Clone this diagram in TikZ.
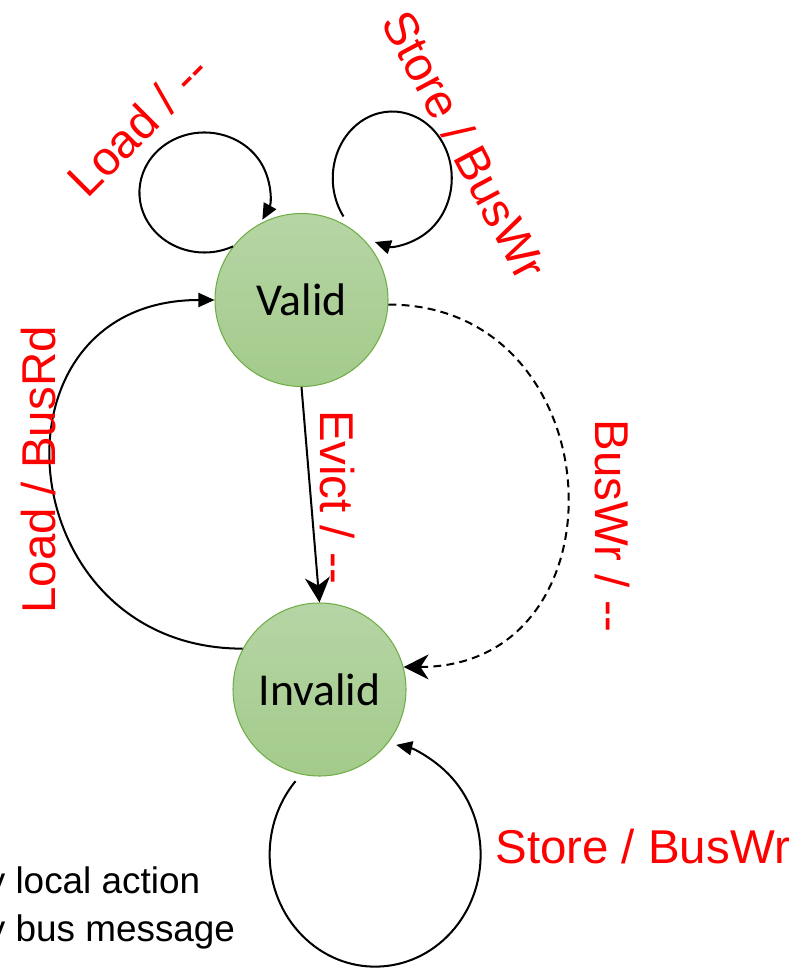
\documentclass[tikz,border=0pt]{standalone}
\usepackage{fontspec}
\setmainfont{Liberation Sans}
\newfontfamily\statefont{Carlito}
\usetikzlibrary{arrows.meta}

\definecolor{stateedge}{RGB}{112,173,71}
\definecolor{statetop}{RGB}{182,213,165}
\definecolor{statebottom}{RGB}{163,203,139}

\begin{document}
\begin{tikzpicture}[
	font=\fontsize{27}{32}\selectfont,
	state/.style={circle, draw=stateedge, line width=0.6pt, top color=statetop, bottom color=statebottom, minimum size=3.46cm, inner sep=0pt, font=\statefont\fontsize{26}{31}\selectfont},
	trans/.style={-{Triangle[length=3.2mm, width=2.8mm]}, line width=1.15pt, draw=black},
	bustrans/.style={trans, dashed, dash pattern=on 4.5pt off 3pt},
	bigtip/.style={-{Stealth[length=5mm, width=5mm, inset=1.6mm]}},
	action/.style={text=red, inner sep=0pt},
	legendtext/.style={font=\fontsize{21}{25}\selectfont, anchor=base west, inner sep=0pt}
]
\useasboundingbox (0,0) rectangle (15.96,-19.46);

% The two cache line states.
\node[state] (valid) at (6.03,-6.00) {Valid};
\node[state] (invalid) at (6.39,-13.79) {Invalid};

% Self loops.
\draw[trans] (valid.142) arc[start angle=-64, end angle=-387, x radius=1.3, y radius=1.2];
\draw[trans] ([shift={(0.05,0.12)}]valid.63) arc[start angle=215, end angle=-107, x radius=1.19, y radius=1.334];
\draw[trans] ([shift={(0,-0.16)}]invalid.-106) arc[start angle=139, end angle=438.5, x radius=2.11, y radius=2.24];

% Transitions between the states.
\draw[trans, bigtip] (valid.south) -- (invalid.north);
\draw[trans] (invalid.152) .. controls +(180:4.7) and +(180:4.7) .. (valid.west);
\draw[bustrans, bigtip] (valid.-3) .. controls +(0:4.54) and +(0:4.54) .. (invalid.15);

\node[action, rotate=45] (loadhit) at (2.76,-2.50) {Load / -{}-};
\node[action, rotate=-62] (storevalid) at (9.30,-2.90) {Store / BusWr};
\node[action, rotate=90] (loadmiss) at (0.77,-9.40) {Load / BusRd};
\node[action, rotate=-90] (evict) at (6.74,-9.94) {Evict / -{}-};
\node[action, rotate=-90] (snoop) at (12.24,-10.52) {BusWr / -{}-};
\node[action, anchor=base west] (storeinvalid) at (9.90,-17.26) {Store / BusWr};

% Legend, cut at the left edge.
\node[legendtext] (lglocal) at (-0.68,-17.86) {by local action};
\node[legendtext] (lgbus) at (-0.68,-18.82) {by bus message};

\end{tikzpicture}
\end{document}
